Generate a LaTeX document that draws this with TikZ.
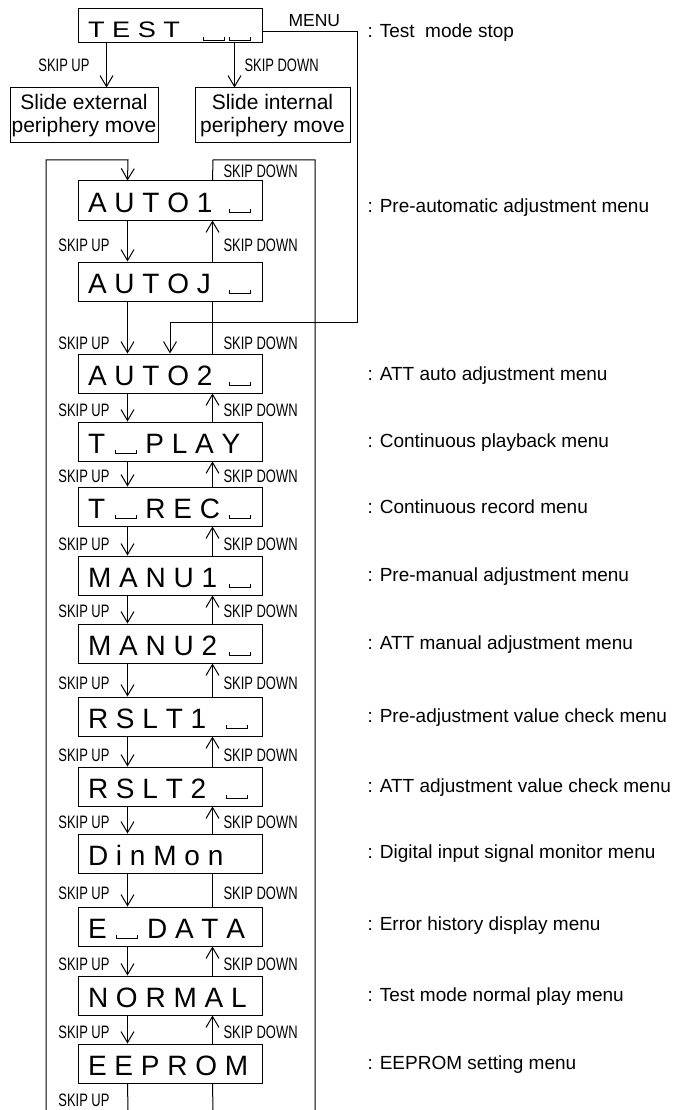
\documentclass[tikz,border=0pt]{standalone}
\usepackage{fontspec}
\setmainfont{Liberation Sans}
\usetikzlibrary{arrows.meta}
\newcommand\blk{\kern2pt\rule{0.9pt}{4pt}\rule{20pt}{0.9pt}\rule{0.9pt}{4pt}\kern1pt}
\newcommand\skl[1]{\scalebox{0.72}[1]{#1}}
\begin{document}
\begin{tikzpicture}[x=1pt,y=-1pt,line width=1pt,
  arr/.style={-{Straight Barb[length=11pt,width=13pt]}},
  mbox/.style={draw,minimum width=184pt,minimum height=39pt,inner xsep=10pt,inner ysep=0pt,
    text height=24pt,text depth=0pt,font=\fontsize{28}{30}\selectfont},
  tbox/.style={mbox,minimum height=34pt},
  sbox/.style={draw,align=center,minimum height=55pt,inner sep=0pt,font=\fontsize{21}{22.5}\selectfont},
  lbl/.style={inner sep=0pt,font=\fontsize{18}{20}\selectfont},
  desc/.style={anchor=base west,inner sep=0pt,font=\fontsize{19}{22}\selectfont},
  menulbl/.style={anchor=base west,inner sep=0pt,font=\fontsize{17.5}{20}\selectfont}]
\fill[white] (0,0) rectangle (673,1110);
\useasboundingbox (0,0) rectangle (673,1110);

% top
\node[tbox] (test) at (170,26) {\makebox[164pt][l]{\scalebox{0.97}[0.8]{T E S T}\hfill\raisebox{-3pt}{\blk\kern1pt\blk}}};
\node[sbox,minimum width=148pt] (ext) at (84,115.5) {Slide external\\periphery move};
\node[sbox,minimum width=155pt] (int) at (272.5,115.5) {Slide internal\\periphery move};
\draw[arr] ([xshift=29pt]test.south west) -- ([xshift=29pt]test.south west |- ext.north);
\draw[arr] ([xshift=157pt]test.south west) -- ([xshift=157pt]test.south west |- int.north);
\node[lbl,anchor=east] (lupt) at (90,65) {\skl{SKIP UP}};
\node[lbl,anchor=west] (ldnt) at (244,65) {\skl{SKIP DOWN}};
\node[menulbl] (menu) at (288,27) {MENU};
\node[desc] (d0) at (367,38) {: Test\ \ mode stop};

% menu boxes
\node[mbox] (a1) at (170,200.5) {\makebox[164pt][l]{A U T O 1\hfill\blk}};
\node[mbox] (aj) at (170,281.5) {\makebox[164pt][l]{A U T O J\hfill\blk}};
\node[mbox] (a2) at (170,373.5) {\makebox[164pt][l]{A U T O 2\hfill\blk}};
\node[mbox] (tp) at (170,441.5) {\makebox[164pt][l]{T \blk{} P L A Y}};
\node[mbox] (tr) at (170,506.5) {\makebox[164pt][l]{T \blk{} R E C\hfill\blk}};
\node[mbox] (m1) at (170,575.5) {\makebox[164pt][l]{M A N U 1\hfill\blk}};
\node[mbox] (m2) at (170,643.5) {\makebox[164pt][l]{M A N U 2\hfill\blk}};
\node[mbox] (r1) at (170,716.5) {\makebox[164pt][l]{R S L T 1\hfill\blk\kern3pt}};
\node[mbox] (r2) at (170,786.5) {\makebox[164pt][l]{R S L T 2\hfill\blk\kern3pt}};
\node[mbox] (dm) at (170,853.5) {\makebox[164pt][l]{D i n M o n}};
\node[mbox] (ed) at (170,926.5) {\makebox[164pt][l]{E \blk{} D A T A}};
\node[mbox] (nm) at (170,995.5) {\makebox[164pt][l]{N O R M A L}};
\node[mbox] (ee) at (170,1063.5) {\makebox[164pt][l]{E E P R O M}};

% descriptions
\node[desc] (d1) at (367,212) {: Pre-automatic adjustment menu};
\node[desc] (d2) at (367,380) {: ATT auto adjustment menu};
\node[desc] (d3) at (367,447.5) {: Continuous playback menu};
\node[desc] (d4) at (367,513) {: Continuous record menu};
\node[desc] (d5) at (367,581.5) {: Pre-manual adjustment menu};
\node[desc] (d6) at (367,649.5) {: ATT manual adjustment menu};
\node[desc] (d7) at (367,722.5) {: Pre-adjustment value check menu};
\node[desc] (d8) at (367,792) {: ATT adjustment value check menu};
\node[desc] (d9) at (367,858) {: Digital input signal monitor menu};
\node[desc] (d10) at (367,930) {: Error history display menu};
\node[desc] (d11) at (367,1001) {: Test mode normal play menu};
\node[desc] (d12) at (367,1069) {: EEPROM setting menu};

% loops
\coordinate (lb) at (46,1110);
\coordinate (lt) at (46,160);
\coordinate (lt2) at (128,160);
\coordinate (rt1) at (213,160);
\coordinate (rt2) at (315,160);
\coordinate (rb) at (315,1110);
\draw[arr] (lb) -- (lt) -- (lt2) -- ([xshift=50pt]a1.north west);
\draw ([xshift=135pt]a1.north west) -- (rt1) -- (rt2) -- (rb);
\node[lbl,anchor=west] (ldn0) at (223,171.5) {\skl{SKIP DOWN}};

% menu connector
\coordinate (mc1) at (357,32);
\coordinate (mc2) at (357,322);
\coordinate (mc3) at (170,322);
\draw[arr] ([yshift=-6pt]test.east) -- (mc1) -- (mc2) -- (mc3) -- (a2.north);

% chain
\foreach \u/\l/\y/\ar in {a1/aj/245/1,aj/a2/343/0,a2/tp/410/1,tp/tr/476/1,tr/m1/544/1,m1/m2/611.5/1,m2/r1/683/1,r1/r2/755/1,r2/dm/822.5/1,dm/ed/893.5/0,ed/nm/964/1,nm/ee/1032/1}{
  \draw[arr] ([xshift=50pt]\u.south west) -- ([xshift=50pt]\l.north west);
  \ifnum\ar=1
    \draw[arr] ([xshift=135pt]\l.north west) -- ([xshift=135pt]\u.south west);
  \else
    \draw ([xshift=135pt]\l.north west) -- ([xshift=135pt]\u.south west);
  \fi
  \node[lbl,anchor=east] (lu-\u) at (110,\y) {\skl{SKIP UP}};
  \node[lbl,anchor=west] (ld-\u) at (223,\y) {\skl{SKIP DOWN}};
}
\coordinate (eb1) at (128,1110);
\coordinate (eb2) at (213,1110);
\draw ([xshift=50pt]ee.south west) -- (eb1);
\draw ([xshift=135pt]ee.south west) -- (eb2);
\node[lbl,anchor=east] (lu-end) at (110,1100) {\skl{SKIP UP}};
\end{tikzpicture}
\end{document}
